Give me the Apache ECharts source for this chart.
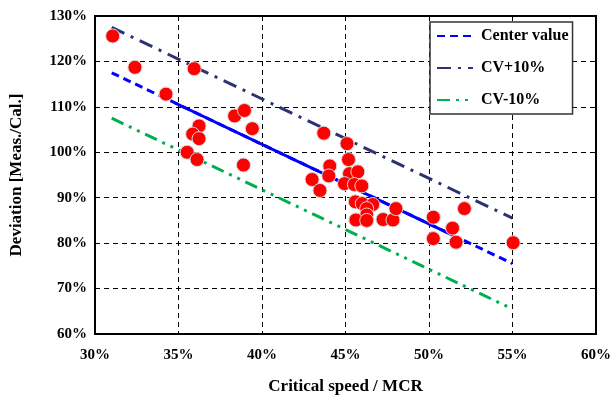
<!DOCTYPE html>
<html>
<head>
<meta charset="utf-8">
<script src="https://cdn.jsdelivr.net/npm/echarts@6/dist/echarts.min.js"></script>
<style>
  html, body { margin: 0; padding: 0; background: #fff; }
  #chart { width: 614px; height: 404px; }
</style>
</head>
<body>
<div id="chart"></div>
<script>
// measured points: critical speed / MCR (%) and deviation (%)
const measX = [31.06, 32.39, 35.94, 34.25, 38.36, 38.95, 39.42, 36.23, 35.85, 36.23,
    35.52, 36.11, 38.89, 43.70, 45.09, 45.18, 45.24, 45.74, 44.06, 44.0,
    43.0, 43.47, 44.94, 45.53, 45.98, 45.59, 46.0, 46.63, 46.27, 46.27,
    45.62, 46.27, 47.25, 47.84, 48.02, 50.26, 51.41, 50.26, 51.62, 52.12, 55.04];
const measY = [125.6, 118.7, 118.4, 112.8, 108.0, 109.2, 105.2, 105.8, 104.0, 103.0,
    100.0, 98.4, 97.2, 104.2, 101.9, 98.4, 95.3, 95.7, 97.0, 94.8,
    94.0, 91.6, 93.1, 92.9, 92.6, 89.1, 88.7, 88.5, 87.6, 86.2,
    85.1, 85.0, 85.2, 85.1, 87.6, 85.7, 83.3, 81.0, 80.2, 87.6, 80.1];

// trend lines (end points)
const lineX = [31, 55];
const centerY = [117.5, 75.5];
const plusY = [127.5, 85.5];
const minusY = [107.5, 65.5];
// solid part of the center line (over the data range)
const solidX = [34.8, 51.6];
const solidY = [110.85, 81.45];

const xTicks = { min: 30, max: 60, step: 5 };
const yTicks = { min: 60, max: 130, step: 10 };

const serif = 'Liberation Serif';
const pair = (xs, ys) => xs.map((x, i) => [x, ys[i]]);

const chart = echarts.init(document.getElementById('chart'));

const option = {
    animation: false,
    grid: {
        left: 92, right: 14, top: 16, bottom: 70,
        show: true, borderColor: '#000', borderWidth: 2, backgroundColor: '#fff'
    },
    legend: {
        data: ['Center value', 'CV+10%', 'CV-10%'],
        orient: 'vertical',
        left: 430, top: 22,
        padding: [6, 4, 6, 6],
        itemWidth: 36, itemHeight: 14, itemGap: 16,
        backgroundColor: '#fff',
        borderColor: '#333', borderWidth: 1.5, borderRadius: 0,
        itemStyle: { opacity: 0 },
        textStyle: { fontFamily: serif, fontWeight: 'bold', fontSize: 16, color: '#000', padding: [0, 0, 0, 3] }
    },
    xAxis: {
        type: 'value',
        min: xTicks.min, max: xTicks.max, interval: xTicks.step,
        name: 'Critical speed / MCR',
        nameLocation: 'middle', nameGap: 44,
        nameTextStyle: { fontFamily: serif, fontWeight: 'bold', fontSize: 17, color: '#000' },
        axisLine: { show: false },
        axisTick: { show: false },
        axisLabel: { formatter: '{value}%', margin: 14, fontFamily: serif, fontWeight: 'bold', fontSize: 15, color: '#000' },
        splitLine: { show: true, lineStyle: { color: '#000', type: [5, 4], width: 1 } }
    },
    yAxis: {
        type: 'value',
        min: yTicks.min, max: yTicks.max, interval: yTicks.step,
        name: 'Deviation [Meas./Cal.]',
        nameLocation: 'middle', nameGap: 70,
        nameTextStyle: { fontFamily: serif, fontWeight: 'bold', fontSize: 17, color: '#000' },
        axisLine: { show: false },
        axisTick: { show: false },
        axisLabel: { formatter: '{value}%', margin: 8, fontFamily: serif, fontWeight: 'bold', fontSize: 15, color: '#000' },
        splitLine: { show: true, lineStyle: { color: '#000', type: [5, 4], width: 1 } }
    },
    series: [
        {
            name: 'CV+10%', type: 'line', symbol: 'none', z: 3,
            data: pair(lineX, plusY),
            lineStyle: { color: '#2E3272', width: 3, type: [14, 7, 3, 7] },
            itemStyle: { color: '#2E3272' }
        },
        {
            name: 'CV-10%', type: 'line', symbol: 'none', z: 3,
            data: pair(lineX, minusY),
            lineStyle: { color: '#00B050', width: 3, type: [13, 6, 3, 6, 3, 6] },
            itemStyle: { color: '#00B050' }
        },
        {
            name: 'Center value', type: 'line', symbol: 'none', z: 3,
            data: pair(lineX, centerY),
            lineStyle: { color: '#0000FF', width: 3, type: [8, 5] },
            itemStyle: { color: '#0000FF' }
        },
        {
            name: 'center-solid', type: 'line', symbol: 'none', z: 3,
            data: pair(solidX, solidY),
            lineStyle: { color: '#0000FF', width: 3, type: 'solid' }
        },
        {
            name: 'measured', type: 'scatter', z: 5,
            symbolSize: 14,
            data: pair(measX, measY),
            itemStyle: { color: '#FF0000', borderColor: '#d8d8d8', borderWidth: 1, opacity: 1 }
        }
    ]
};

chart.setOption(option);
window.addEventListener('resize', () => chart.resize());
</script>
</body>
</html>
